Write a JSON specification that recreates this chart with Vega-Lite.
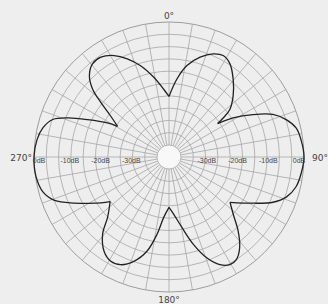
{
  "$schema": "https://vega.github.io/schema/vega-lite/v6.json",
  "width": 270,
  "height": 270,
  "autosize": {"type": "none"},
  "padding": {"left": 34, "top": 22, "right": 24, "bottom": 12},
  "background": "#eeeeee",
  "config": {"view": {"stroke": null}},
  "datasets": {
    "rings": [{"db": -36}, {"db": -32}, {"db": -28}, {"db": -24}, {"db": -20}, {"db": -16}, {"db": -12}, {"db": -8}, {"db": -4}, {"db": 0}],
    "hole": [{"db": -40}],
    "spokes": [{"deg": 0}, {"deg": 10}, {"deg": 20}, {"deg": 30}, {"deg": 40}, {"deg": 50}, {"deg": 60}, {"deg": 70}, {"deg": 80}, {"deg": 90}, {"deg": 100}, {"deg": 110}, {"deg": 120}, {"deg": 130}, {"deg": 140}, {"deg": 150}, {"deg": 160}, {"deg": 170}, {"deg": 180}, {"deg": 190}, {"deg": 200}, {"deg": 210}, {"deg": 220}, {"deg": 230}, {"deg": 240}, {"deg": 250}, {"deg": 260}, {"deg": 270}, {"deg": 280}, {"deg": 290}, {"deg": 300}, {"deg": 310}, {"deg": 320}, {"deg": 330}, {"deg": 340}, {"deg": 350}],
    "pattern": [
      {"lobe": "A", "deg": 0, "db": -24.2}, {"lobe": "A", "deg": 5.8, "db": -18.4}, {"lobe": "A", "deg": 11.1, "db": -13.6}, {"lobe": "A", "deg": 17.3, "db": -9.9}, {"lobe": "A", "deg": 23.2, "db": -7.4}, {"lobe": "A", "deg": 28.1, "db": -6.5}, {"lobe": "A", "deg": 33.2, "db": -7.7}, {"lobe": "A", "deg": 39.5, "db": -11.1}, {"lobe": "A", "deg": 46.4, "db": -15.1}, {"lobe": "A", "deg": 52, "db": -18.8}, {"lobe": "A", "deg": 54.2, "db": -22.1}, {"lobe": "A", "deg": 55.5, "db": -24.7},
      {"lobe": "B", "deg": 55.5, "db": -24.7}, {"lobe": "B", "deg": 58.6, "db": -19.5}, {"lobe": "B", "deg": 63.2, "db": -13.3}, {"lobe": "B", "deg": 67.7, "db": -7.4}, {"lobe": "B", "deg": 72.3, "db": -3.9}, {"lobe": "B", "deg": 77.1, "db": -1.5}, {"lobe": "B", "deg": 82.6, "db": -0.6}, {"lobe": "B", "deg": 90, "db": 0}, {"lobe": "B", "deg": 97.1, "db": -0.6}, {"lobe": "B", "deg": 103.3, "db": -1.5}, {"lobe": "B", "deg": 108.9, "db": -3.6}, {"lobe": "B", "deg": 113.5, "db": -7}, {"lobe": "B", "deg": 118.8, "db": -12.7}, {"lobe": "B", "deg": 126.6, "db": -19.2},
      {"lobe": "C", "deg": 126.6, "db": -19.2}, {"lobe": "C", "deg": 131.6, "db": -16}, {"lobe": "C", "deg": 136.9, "db": -11}, {"lobe": "C", "deg": 142.1, "db": -6.5}, {"lobe": "C", "deg": 146.7, "db": -4}, {"lobe": "C", "deg": 150.5, "db": -3.7}, {"lobe": "C", "deg": 154.7, "db": -5.2}, {"lobe": "C", "deg": 159.5, "db": -8.9}, {"lobe": "C", "deg": 164.4, "db": -14.4}, {"lobe": "C", "deg": 169.6, "db": -20.6}, {"lobe": "C", "deg": 175.4, "db": -25.3}, {"lobe": "C", "deg": 180, "db": -27.5},
      {"lobe": "D", "deg": 180, "db": -27.5}, {"lobe": "D", "deg": 185, "db": -24.2}, {"lobe": "D", "deg": 188.8, "db": -18.5}, {"lobe": "D", "deg": 193.1, "db": -12.5}, {"lobe": "D", "deg": 198.6, "db": -8.1}, {"lobe": "D", "deg": 204.2, "db": -5.5}, {"lobe": "D", "deg": 209.2, "db": -5.1}, {"lobe": "D", "deg": 214.6, "db": -6.7}, {"lobe": "D", "deg": 220.7, "db": -10.8}, {"lobe": "D", "deg": 225.5, "db": -15.9}, {"lobe": "D", "deg": 232.9, "db": -19.9},
      {"lobe": "E", "deg": 232.9, "db": -19.9}, {"lobe": "E", "deg": 238.3, "db": -15.3}, {"lobe": "E", "deg": 244, "db": -9.7}, {"lobe": "E", "deg": 249.2, "db": -4.1}, {"lobe": "E", "deg": 254.4, "db": -1.4}, {"lobe": "E", "deg": 261.5, "db": -0.2}, {"lobe": "E", "deg": 270, "db": 0}, {"lobe": "E", "deg": 277.4, "db": -0.6}, {"lobe": "E", "deg": 283, "db": -1.8}, {"lobe": "E", "deg": 287.9, "db": -4.2}, {"lobe": "E", "deg": 291.1, "db": -8.6}, {"lobe": "E", "deg": 294.7, "db": -14.8}, {"lobe": "E", "deg": 299, "db": -21}, {"lobe": "E", "deg": 300.8, "db": -24.4},
      {"lobe": "F", "deg": 300.8, "db": -24.4}, {"lobe": "F", "deg": 305, "db": -20.8}, {"lobe": "F", "deg": 308.6, "db": -15.6}, {"lobe": "F", "deg": 311.6, "db": -10.7}, {"lobe": "F", "deg": 315.6, "db": -6.9}, {"lobe": "F", "deg": 320.6, "db": -4.7}, {"lobe": "F", "deg": 325.7, "db": -4.6}, {"lobe": "F", "deg": 331.6, "db": -6.4}, {"lobe": "F", "deg": 337, "db": -9.2}, {"lobe": "F", "deg": 342.7, "db": -12.8}, {"lobe": "F", "deg": 349.2, "db": -17.5}, {"lobe": "F", "deg": 355.5, "db": -21.8}, {"lobe": "F", "deg": 360, "db": -24.2}
    ],
    "angles": [{"deg": 0, "label": "0°"}, {"deg": 90, "label": "90°"}, {"deg": 180, "label": "180°"}, {"deg": 270, "label": "270°"}],
    "dblabels": [{"db": 0, "label": "0dB"}, {"db": -10, "label": "-10dB"}, {"db": -20, "label": "-20dB"}, {"db": -30, "label": "-30dB"}]
  },
  "layer": [
    {
      "data": {"name": "rings"},
      "transform": [{"calculate": "12 + (datum.db + 40) * 3.075", "as": "r"}],
      "mark": {"type": "arc", "filled": false, "strokeWidth": 0.8},
      "encoding": {
        "theta": {"value": 0},
        "theta2": {"value": 6.2832},
        "radius": {"field": "r", "type": "quantitative", "stack": null, "scale": {"type": "linear", "domain": [0, 135], "range": [0, 135], "zero": true, "nice": false}},
        "stroke": {"condition": {"test": "datum.db == 0", "value": "#888888"}, "value": "#a6a6a6"}
      }
    },
    {
      "data": {"name": "spokes"},
      "transform": [
        {"calculate": "12 * sin(datum.deg * PI / 180)", "as": "x1"},
        {"calculate": "12 * cos(datum.deg * PI / 180)", "as": "y1"},
        {"calculate": "135 * sin(datum.deg * PI / 180)", "as": "x2"},
        {"calculate": "135 * cos(datum.deg * PI / 180)", "as": "y2"}
      ],
      "mark": {"type": "rule", "stroke": "#a6a6a6", "strokeWidth": 0.8},
      "encoding": {
        "x": {"field": "x1", "type": "quantitative", "scale": {"domain": [-135, 135], "nice": false, "zero": false}, "axis": null},
        "y": {"field": "y1", "type": "quantitative", "scale": {"domain": [-135, 135], "nice": false, "zero": false}, "axis": null},
        "x2": {"field": "x2"},
        "y2": {"field": "y2"}
      }
    },
    {
      "data": {"name": "hole"},
      "transform": [{"calculate": "12 + (datum.db + 40) * 3.075", "as": "r"}],
      "mark": {"type": "arc", "fill": "#f8f8f8", "stroke": "#a6a6a6", "strokeWidth": 0.8},
      "encoding": {
        "theta": {"value": 0},
        "theta2": {"value": 6.2832},
        "radius": {"field": "r", "type": "quantitative", "stack": null, "scale": {"type": "linear", "domain": [0, 135], "range": [0, 135], "zero": true, "nice": false}}
      }
    },
    {
      "data": {"name": "pattern"},
      "transform": [
        {"calculate": "12 + (datum.db + 40) * 3.075", "as": "r"},
        {"calculate": "datum.r * sin(datum.deg * PI / 180)", "as": "px"},
        {"calculate": "datum.r * cos(datum.deg * PI / 180)", "as": "py"}
      ],
      "mark": {"type": "line", "interpolate": "catmull-rom", "stroke": "#222222", "strokeWidth": 1.3},
      "encoding": {
        "x": {"field": "px", "type": "quantitative"},
        "y": {"field": "py", "type": "quantitative"},
        "detail": {"field": "lobe", "type": "nominal"},
        "order": {"field": "deg", "type": "quantitative"}
      }
    },
    {
      "data": {"name": "dblabels"},
      "transform": [{"calculate": "12 + (datum.db + 40) * 3.075", "as": "r"}],
      "mark": {"type": "text", "font": "Liberation Sans", "fontSize": 7, "fill": "#444444", "align": "center", "baseline": "middle", "dx": -5, "dy": 4},
      "encoding": {
        "x": {"field": "r", "type": "quantitative"},
        "y": {"datum": 0, "type": "quantitative"},
        "text": {"field": "label"}
      }
    },
    {
      "data": {"name": "dblabels"},
      "transform": [{"calculate": "-(12 + (datum.db + 40) * 3.075)", "as": "r"}],
      "mark": {"type": "text", "font": "Liberation Sans", "fontSize": 7, "fill": "#444444", "align": "center", "baseline": "middle", "dx": 5, "dy": 4},
      "encoding": {
        "x": {"field": "r", "type": "quantitative"},
        "y": {"datum": 0, "type": "quantitative"},
        "text": {"field": "label"}
      }
    },
    {
      "data": {"name": "angles"},
      "transform": [
        {"filter": "datum.deg == 0"},
        {"calculate": "135 * sin(datum.deg * PI / 180)", "as": "ax"},
        {"calculate": "135 * cos(datum.deg * PI / 180)", "as": "ay"}
      ],
      "mark": {"type": "text", "font": "DejaVu Sans", "fontSize": 9, "fill": "#444444", "align": "center", "baseline": "alphabetic", "dy": -3},
      "encoding": {"x": {"field": "ax", "type": "quantitative"}, "y": {"field": "ay", "type": "quantitative"}, "text": {"field": "label"}}
    },
    {
      "data": {"name": "angles"},
      "transform": [
        {"filter": "datum.deg == 180"},
        {"calculate": "135 * sin(datum.deg * PI / 180)", "as": "ax"},
        {"calculate": "135 * cos(datum.deg * PI / 180)", "as": "ay"}
      ],
      "mark": {"type": "text", "font": "DejaVu Sans", "fontSize": 9, "fill": "#444444", "align": "center", "baseline": "alphabetic", "dy": 11},
      "encoding": {"x": {"field": "ax", "type": "quantitative"}, "y": {"field": "ay", "type": "quantitative"}, "text": {"field": "label"}}
    },
    {
      "data": {"name": "angles"},
      "transform": [
        {"filter": "datum.deg == 90"},
        {"calculate": "135 * sin(datum.deg * PI / 180)", "as": "ax"},
        {"calculate": "135 * cos(datum.deg * PI / 180)", "as": "ay"}
      ],
      "mark": {"type": "text", "font": "DejaVu Sans", "fontSize": 9, "fill": "#444444", "align": "left", "baseline": "middle", "dx": 8, "dy": 1},
      "encoding": {"x": {"field": "ax", "type": "quantitative"}, "y": {"field": "ay", "type": "quantitative"}, "text": {"field": "label"}}
    },
    {
      "data": {"name": "angles"},
      "transform": [
        {"filter": "datum.deg == 270"},
        {"calculate": "135 * sin(datum.deg * PI / 180)", "as": "ax"},
        {"calculate": "135 * cos(datum.deg * PI / 180)", "as": "ay"}
      ],
      "mark": {"type": "text", "font": "DejaVu Sans", "fontSize": 9, "fill": "#444444", "align": "right", "baseline": "middle", "dx": -2, "dy": 1},
      "encoding": {"x": {"field": "ax", "type": "quantitative"}, "y": {"field": "ay", "type": "quantitative"}, "text": {"field": "label"}}
    }
  ]
}
